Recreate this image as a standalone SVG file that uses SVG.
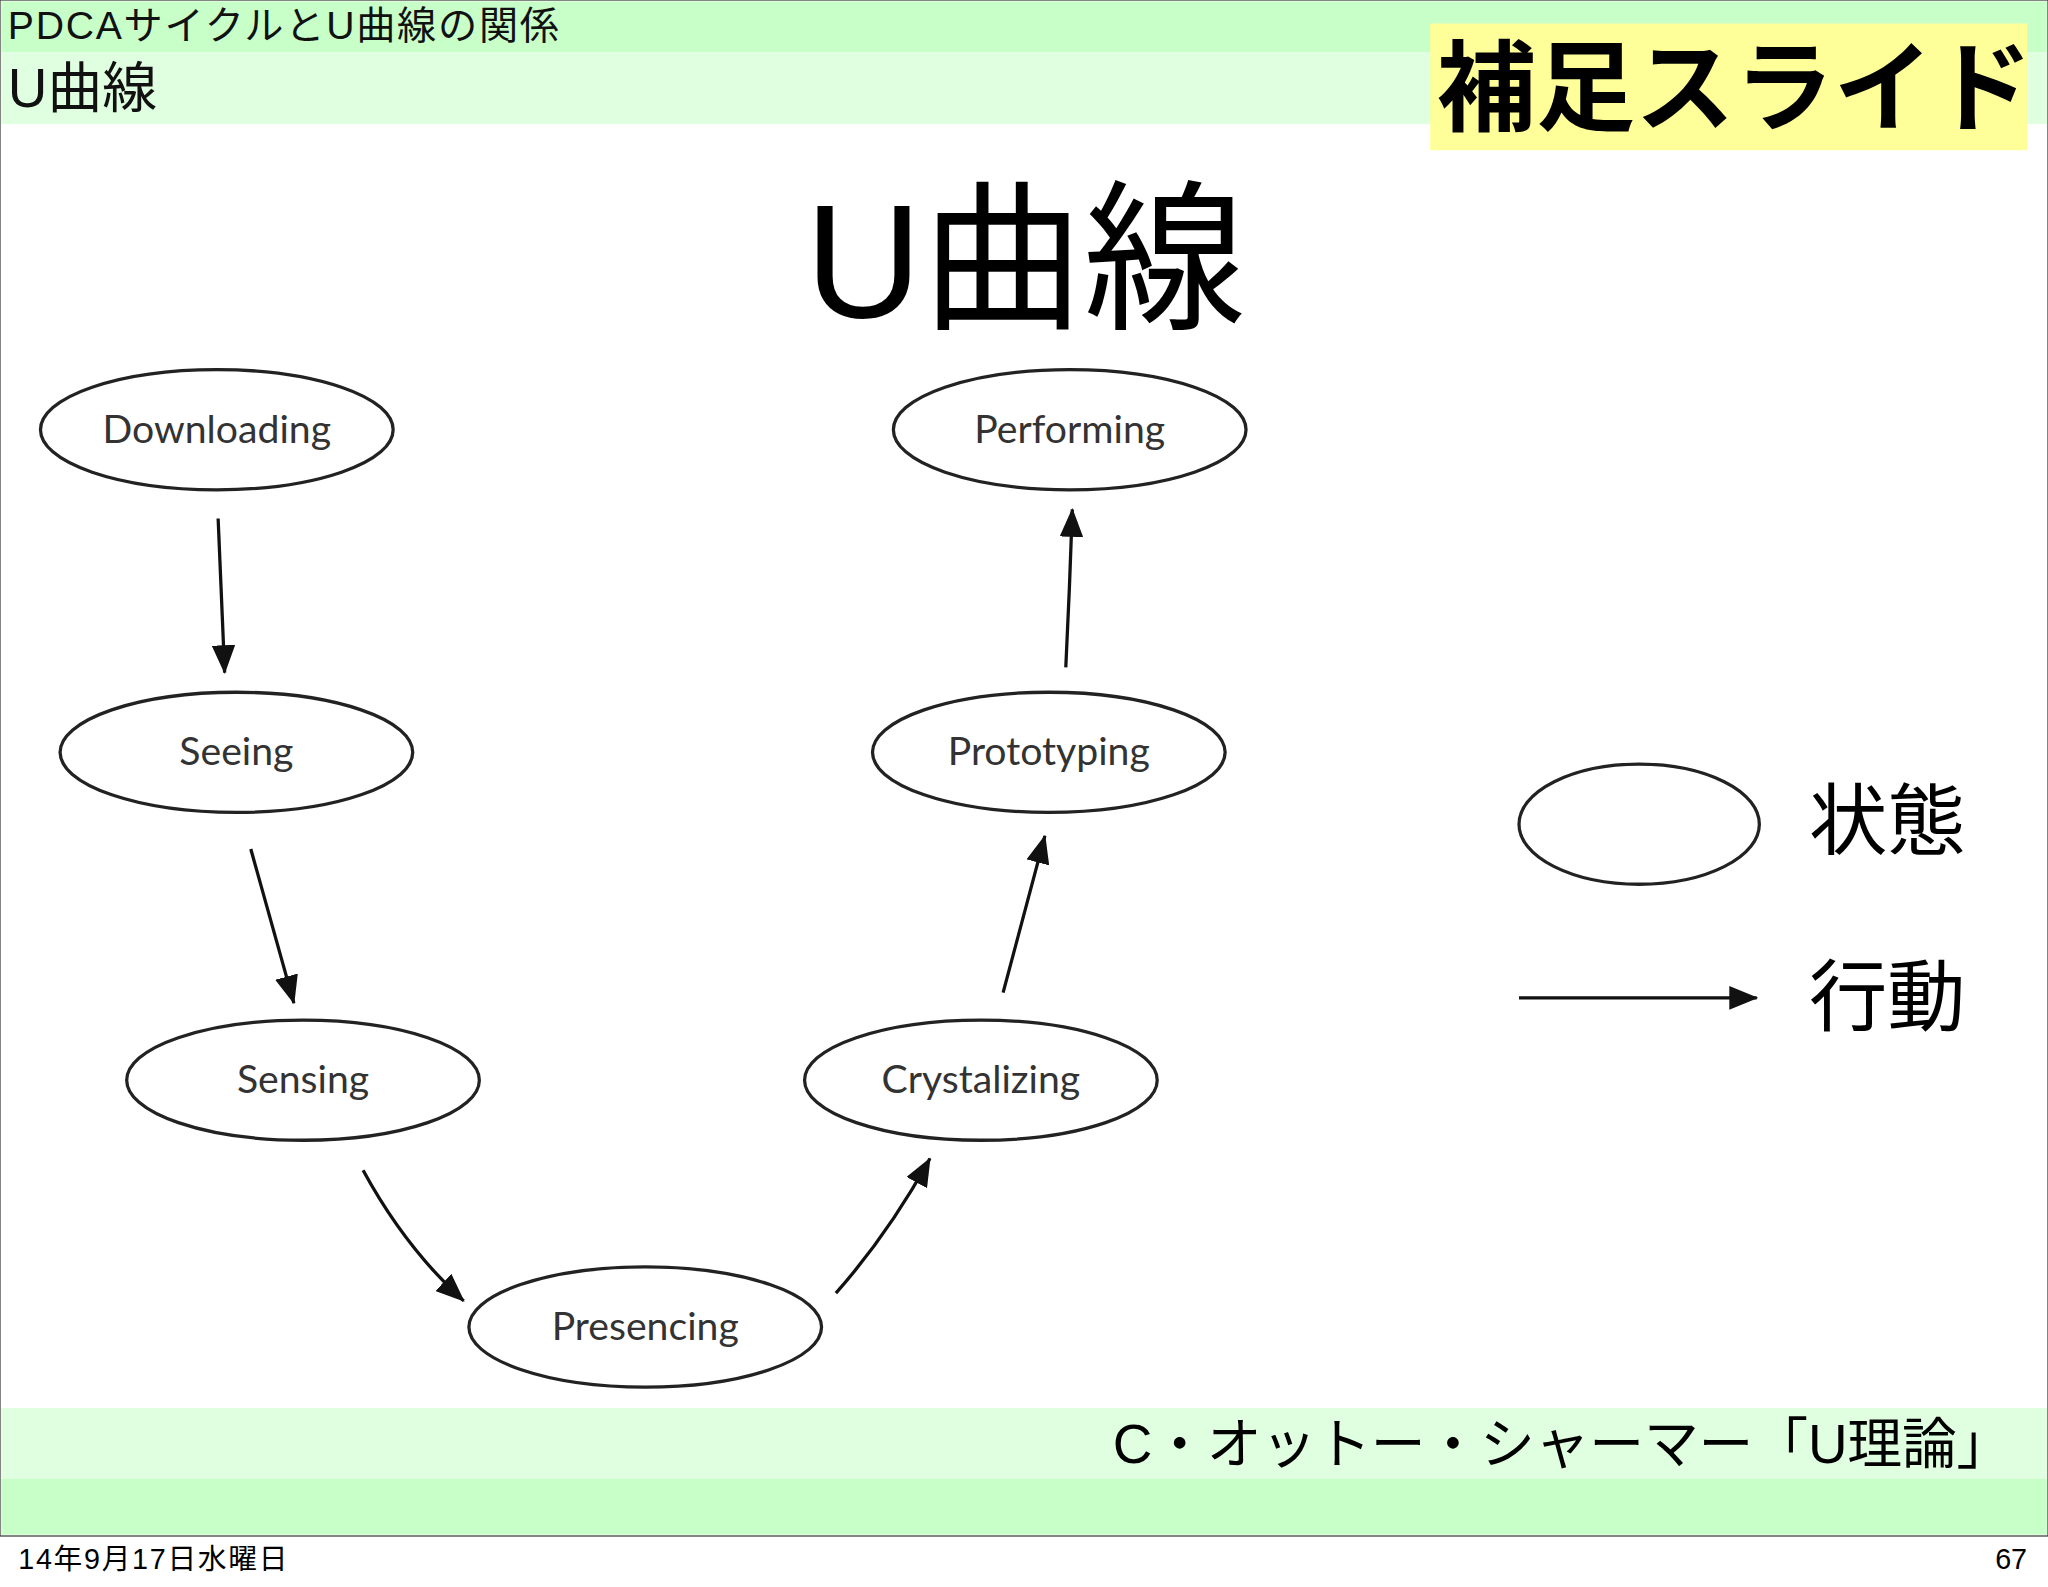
<svg xmlns="http://www.w3.org/2000/svg" width="2048" height="1587" viewBox="0 0 2048 1587">
<defs>
<marker id="ah" markerWidth="22" markerHeight="18" refX="21" refY="9" orient="auto" markerUnits="userSpaceOnUse" viewBox="0 0 22 18"><path d="M0,0 L22,9 L0,18 z" fill="#111"/></marker>
<style>
.node ellipse{fill:none;stroke:#222;stroke-width:2.5}
.node text{font-family:Lato,"Open Sans",sans-serif;font-size:30px;fill:#333;text-anchor:middle}
.jp{font-family:"Liberation Sans","Noto Sans CJK JP",sans-serif}
#connectors path{fill:none;stroke:#111;stroke-width:2.5;marker-end:url(#ah)}
</style>
</defs>
<rect width="2048" height="1587" fill="#fff"/>
<g transform="scale(1.30612)">
<rect x="0" y="0" width="1568" height="1176" fill="#fff" stroke="#444" stroke-width="1"/>
<rect x="1" y="1" width="1566" height="39" fill="#c8ffc8"/>
<rect x="1" y="40" width="1566" height="55" fill="#e0ffe0"/>
<rect x="1" y="1078" width="1566" height="54" fill="#e0ffe0"/>
<rect x="1" y="1132" width="1566" height="43" fill="#c8ffc8"/>
<text x="6" y="30" class="jp" font-size="30" fill="#111" textLength="422">PDCAサイクルとU曲線の関係</text>
<text x="6" y="82" class="jp" font-size="42" fill="#111">U曲線</text>
<rect x="1095" y="18" width="457" height="97" fill="#ffff99"/>
<text x="1328" y="94" class="jp" font-size="76" font-weight="bold" text-anchor="middle" fill="#000">補足スライド</text>
<text x="785" y="243" class="jp" font-size="124" text-anchor="middle" fill="#000">U曲線</text>
<g id="downloading" class="node"><ellipse cx="166" cy="329" rx="135" ry="46"/><text x="166" y="339">Downloading</text></g>
<g id="seeing" class="node"><ellipse cx="181" cy="576" rx="135" ry="46"/><text x="181" y="586">Seeing</text></g>
<g id="sensing" class="node"><ellipse cx="232" cy="827" rx="135" ry="46"/><text x="232" y="837">Sensing</text></g>
<g id="presencing" class="node"><ellipse cx="494" cy="1016" rx="135" ry="46"/><text x="494" y="1026">Presencing</text></g>
<g id="crystalizing" class="node"><ellipse cx="751" cy="827" rx="135" ry="46"/><text x="751" y="837">Crystalizing</text></g>
<g id="prototyping" class="node"><ellipse cx="803" cy="576" rx="135" ry="46"/><text x="803" y="586">Prototyping</text></g>
<g id="performing" class="node"><ellipse cx="819" cy="329" rx="135" ry="46"/><text x="819" y="339">Performing</text></g>
<g id="legend-state" class="node"><ellipse cx="1255" cy="631" rx="92" ry="46"/></g>
<text x="1385" y="650" class="jp" font-size="60" fill="#000">状態</text>
<text x="1385" y="785" class="jp" font-size="60" fill="#000">行動</text>
<g id="connectors">
<path d="M167,397 L172,515"/>
<path d="M192,650 L225,768"/>
<path d="M278,896 Q310,955 355,996"/>
<path d="M640,990 Q680,945 712,887"/>
<path d="M768,760 L800,640"/>
<path d="M816,511 Q819,450 821,390"/>
<path d="M1163,764 L1345,764"/>
</g>
<text x="1540" y="1120" class="jp" font-size="42" text-anchor="end" fill="#000" textLength="688">C・オットー・シャーマー「U理論」</text>
<text x="14" y="1201" class="jp" font-size="22" fill="#000" textLength="206">14年9月17日水曜日</text>
<text x="1552" y="1201" font-family="Liberation Sans,sans-serif" font-size="22" text-anchor="end" fill="#000">67</text>
</g>
</svg>
